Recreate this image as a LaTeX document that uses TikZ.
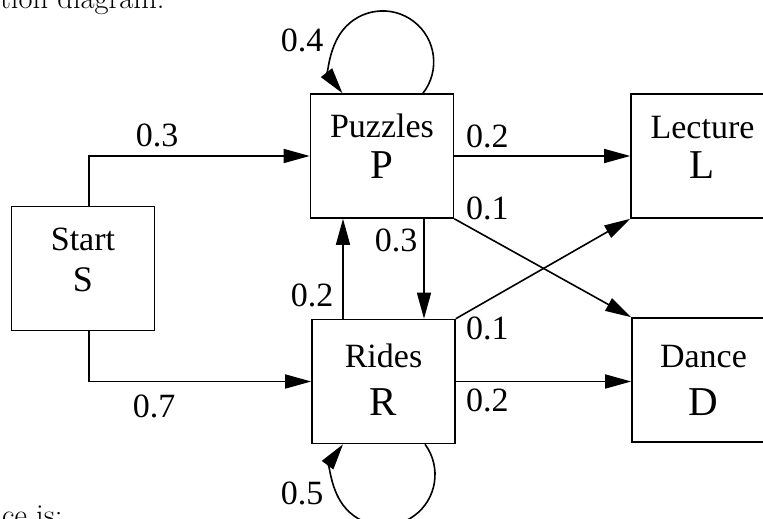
\documentclass[tikz,border=0pt]{standalone}
\usepackage{fontspec}
\newfontfamily\diagfont{Liberation Serif}
\usetikzlibrary{arrows.meta}
\begin{document}
\begin{tikzpicture}[x=1pt,y=1pt,
  state/.style={draw, line width=1.6pt, minimum width=143pt, minimum height=124pt, inner sep=0pt},
  word/.style={font=\diagfont\fontsize{34}{40}\selectfont, anchor=base, inner sep=0pt},
  letter/.style={font=\diagfont\fontsize{41}{48}\selectfont, anchor=base, inner sep=0pt},
  prob/.style={font=\diagfont\fontsize{34}{40}\selectfont, anchor=base, inner sep=0pt},
  probl/.style={prob, anchor=base west},
  caption/.style={font=\fontsize{30.5}{36}\selectfont, anchor=base west, inner sep=0pt},
  link/.style={line width=1.6pt, -{Triangle[length=26pt,width=14pt]}},
]
\useasboundingbox (0,0) rectangle (763,519);
\clip (0,0) rectangle (763,519);

% surrounding text lines
\node[caption] (capA) at (0,510) {tion diagram:};
\node[caption] (capB) at (2,-6.5) {ce is:};

% states
\node[state] (S) at (83,250.5) {};
\node[state] (P) at (382,363) {};
\node[state] (R) at (383.5,137.5) {};
\node[state] (L) at (702.5,363) {};
\node[state] (D) at (703.5,139) {};

\node[word] (Sw) at ([yshift=17.5pt]S.center) {Start};
\node[letter, font=\diagfont\fontsize{36}{42}\selectfont] (Sl) at ([yshift=-23.5pt]S.center) {S};
\node[word] (Pw) at ([yshift=18.5pt]P.center) {Puzzles};
\node[letter] (Pl) at ([yshift=-22.5pt]P.center) {P};
\node[word] (Lw) at ([yshift=17.5pt]L.center) {Lecture};
\node[letter] (Ll) at ([yshift=-22.5pt]L.center) {L};
\node[word] (Rw) at ([yshift=14pt]R.center) {Rides};
\node[letter] (Rl) at ([yshift=-34.5pt]R.center) {R};
\node[word] (Dw) at ([yshift=12.5pt]D.center) {Dance};
\node[letter] (Dl) at ([yshift=-35.5pt]D.center) {D};

% transitions
\coordinate (sx) at (89,0);
\coordinate (down) at (424,0);
\coordinate (up) at (343,0);
\coordinate (ploop) at (423,0);
\coordinate (rloop) at (425,0);

\draw[link] (S.north -| sx) |- (P.west);
\draw[link] (S.south -| sx) |- (R.west);
\draw[link] (P.east) -- (L.west);
\draw[link] (P.south east) -- (D.north west);
\draw[link] (R.north east) -- (L.south west);
\draw[link] (R.east) -- (R.east -| D.west);
\draw[link] (P.south -| down) -- (R.north -| down);
\draw[link] (R.north -| up) -- (P.south -| up);
\draw[link] (P.north -| ploop) arc[start angle=-37.8, end angle=217.8, radius=51pt];
\draw[link] (R.south -| rloop) arc[start angle=36.5, end angle=-216.5, radius=51pt];

% probabilities
\node[prob] (pSP) at (157,372.3) {0.3};
\node[prob] (pSR) at (154,101) {0.7};
\node[probl] (pPL) at (466,371) {0.2};
\node[probl] (pPD) at (466,299) {0.1};
\node[probl] (pRL) at (466,179) {0.1};
\node[probl] (pRD) at (466,107) {0.2};
\node[prob] (pPR) at (396,267) {0.3};
\node[prob] (pRP) at (312,212) {0.2};
\node[prob] (pPP) at (302,467) {0.4};
\node[prob] (pRR) at (302,14) {0.5};
\end{tikzpicture}
\end{document}
